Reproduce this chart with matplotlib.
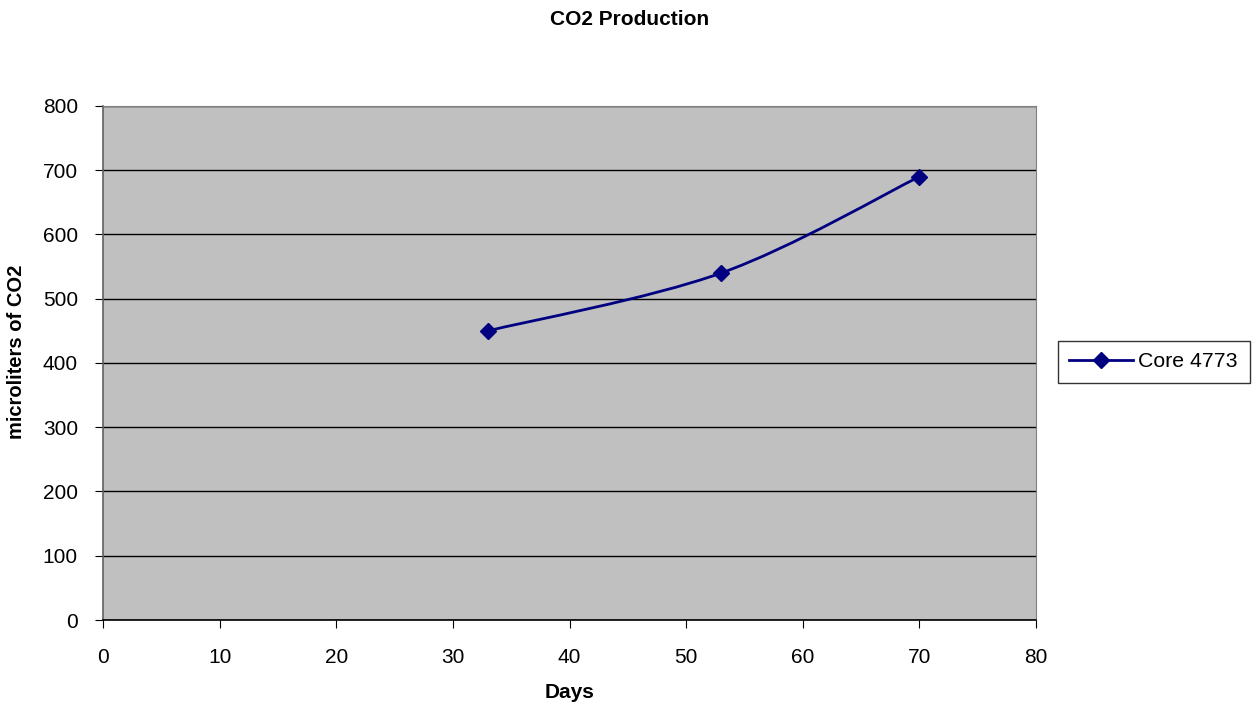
import numpy as np
import matplotlib
matplotlib.use("Agg")
import matplotlib.pyplot as plt
from matplotlib.path import Path
from matplotlib.patches import PathPatch
from matplotlib.lines import Line2D

plt.rcParams['font.family'] = ['Liberation Sans', 'DejaVu Sans']

days = [33, 53, 70]
co2 = [450, 540, 690]
series_name = "Core 4773"
navy = "#000080"

fig = plt.figure(figsize=(12.54, 7.06), dpi=100)
ax = fig.add_axes([0.0821, 0.1218, 0.7441, 0.7281])
ax.set_facecolor("#c0c0c0")

# smoothed line through the points (cubic bezier segments)
pts = np.column_stack([days, co2]).astype(float)
n = len(pts)
verts = [pts[0]]
codes = [Path.MOVETO]
for i in range(n - 1):
    p0 = pts[i - 1] if i > 0 else pts[i]
    p1, p2 = pts[i], pts[i + 1]
    p3 = pts[i + 2] if i + 2 < n else pts[i + 1]
    c1 = p1 + (p2 - p0) / 6.0
    c2 = p2 - (p3 - p1) / 6.0
    verts += [c1, c2, p2]
    codes += [Path.CURVE4] * 3
ax.add_patch(PathPatch(Path(verts, codes), fill=False, edgecolor=navy, lw=2, zorder=3))
ax.plot(days, co2, ls="none", marker="D", ms=8, color=navy, zorder=4)

ax.set_xlim(0, 80)
ax.set_ylim(0, 800)
ax.set_xticks(np.arange(0, 81, 10))
ax.set_yticks(np.arange(0, 801, 100))
ax.yaxis.grid(True, color="black", lw=1)
ax.set_axisbelow(True)
ax.tick_params(direction="out", length=6, labelsize=15)
ax.tick_params(axis="x", pad=14)
ax.tick_params(axis="y", pad=12)
for s in ["top", "right"]:
    ax.spines[s].set_color("#808080")
ax.spines["bottom"].set_color("black")
ax.spines["bottom"].set_linewidth(1.2)
ax.spines["left"].set_color("#606060")
ax.spines["left"].set_linewidth(1.2)

fig.suptitle("CO2 Production", x=0.502, y=0.9717, va="center",
             fontsize=15, fontweight="bold")
ax.set_xlabel("Days", fontsize=15, fontweight="bold", labelpad=12)
ax.set_ylabel("microliters of CO2", fontsize=14.5, fontweight="bold")
ax.yaxis.set_label_coords(-0.083, 0.521)

handle = Line2D([], [], color=navy, lw=2, marker="D", ms=8)
leg = fig.legend([handle], [series_name], loc="center left",
                 bbox_to_anchor=(0.8435, 0.4875), fontsize=15.3, frameon=True,
                 fancybox=False, edgecolor="black", handlelength=3.0,
                 borderpad=0.55, handletextpad=0.25, borderaxespad=0)
leg.get_frame().set_linewidth(1)

fig.savefig("out.png", dpi=100)
